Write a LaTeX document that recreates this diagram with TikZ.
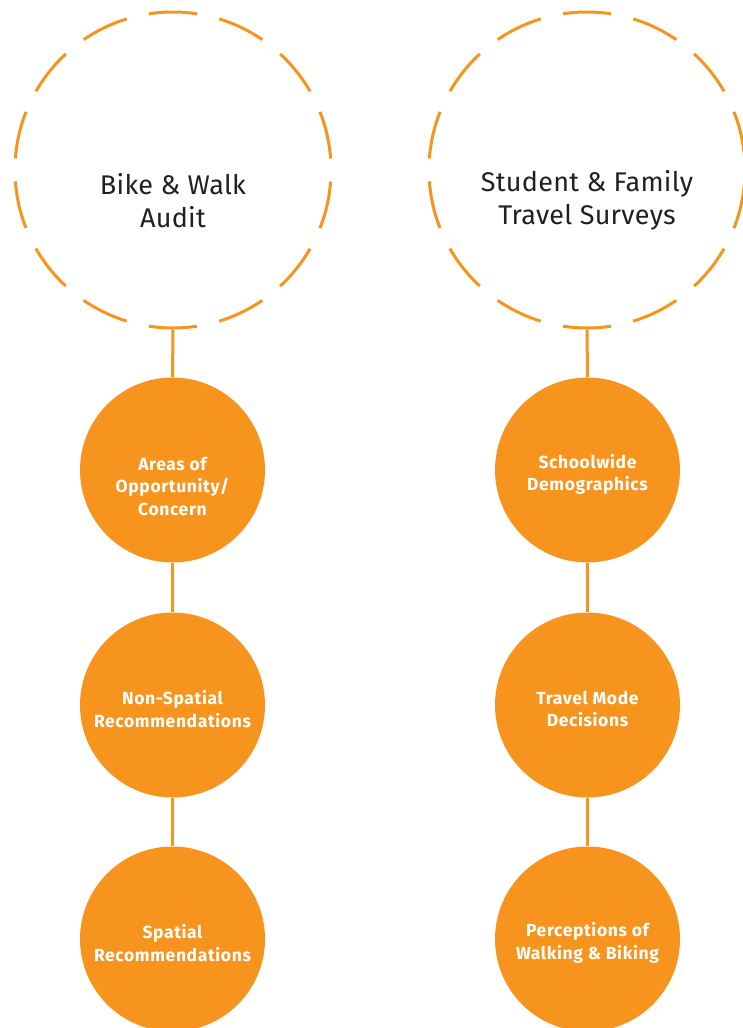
\documentclass[tikz,border=0pt]{standalone}
\usepackage{fontspec}
\setmainfont{Fira Sans}[BoldFont=* Bold]
\definecolor{brandorange}{HTML}{F7941D}
\definecolor{titlegray}{HTML}{231F20}
\tikzset{
  dashring/.style={circle, draw=brandorange, line width=3pt, minimum size=316pt, inner sep=0pt,
    dash pattern=on 48pt off 22.91pt, dash phase=59.45pt},
  ringtext/.style={text=titlegray, align=center, inner sep=0pt,
    font=\fontsize{27}{33}\selectfont\addfontfeatures{LetterSpace=1}},
  dot/.style={circle, fill=brandorange, minimum size=185pt, inner sep=0pt},
  dottext/.style={text=white, align=center, inner sep=0pt,
    font=\fontsize{17.5}{22.5}\selectfont\bfseries\addfontfeatures{LetterSpace=3.5}},
  link/.style={draw=brandorange, line width=3pt}
}
\begin{document}
\begin{tikzpicture}[x=1pt,y=-1pt]
\useasboundingbox (0,0) rectangle (742,1028);
\node[dashring] (d1) at (173,170) {};
\node[dashring] (d2) at (587,170) {};
\node[ringtext] (d1t) at ([yshift=-31pt]d1.center) {Bike \& Walk\\Audit};
\node[ringtext] (d2t) at ([yshift=-30pt]d2.center) {Student \& Family\\Travel Surveys};
\node[dot] (a1) at (172.5,470) {};
\node[dot] (a2) at (172.5,705) {};
\node[dot] (a3) at (172.5,939) {};
\node[dot] (b1) at (587.5,470) {};
\node[dot] (b2) at (587.5,705) {};
\node[dot] (b3) at (587.5,939) {};
\node[dottext] (a1t) at ([yshift=-16.5pt]a1.center) {Areas of\\Opportunity/\\Concern};
\node[dottext] (a2t) at ([yshift=-4pt]a2.center) {Non-Spatial\\Recommendations};
\node[dottext] (a3t) at ([yshift=-4pt]a3.center) {Spatial\\Recommendations};
\node[dottext] (b1t) at ([yshift=-4.5pt]b1.center) {Schoolwide\\Demographics};
\node[dottext] (b2t) at ([yshift=-4pt]b2.center) {Travel Mode\\Decisions};
\node[dottext] (b3t) at ([yshift=-4pt]b3.center) {Perceptions of\\Walking \& Biking};
\draw[link] (d1.south) -- (a1.north);
\draw[link] (a1.south) -- (a2.north);
\draw[link] (a2.south) -- (a3.north);
\draw[link] (d2.south) -- (b1.north);
\draw[link] (b1.south) -- (b2.north);
\draw[link] (b2.south) -- (b3.north);
\end{tikzpicture}
\end{document}
